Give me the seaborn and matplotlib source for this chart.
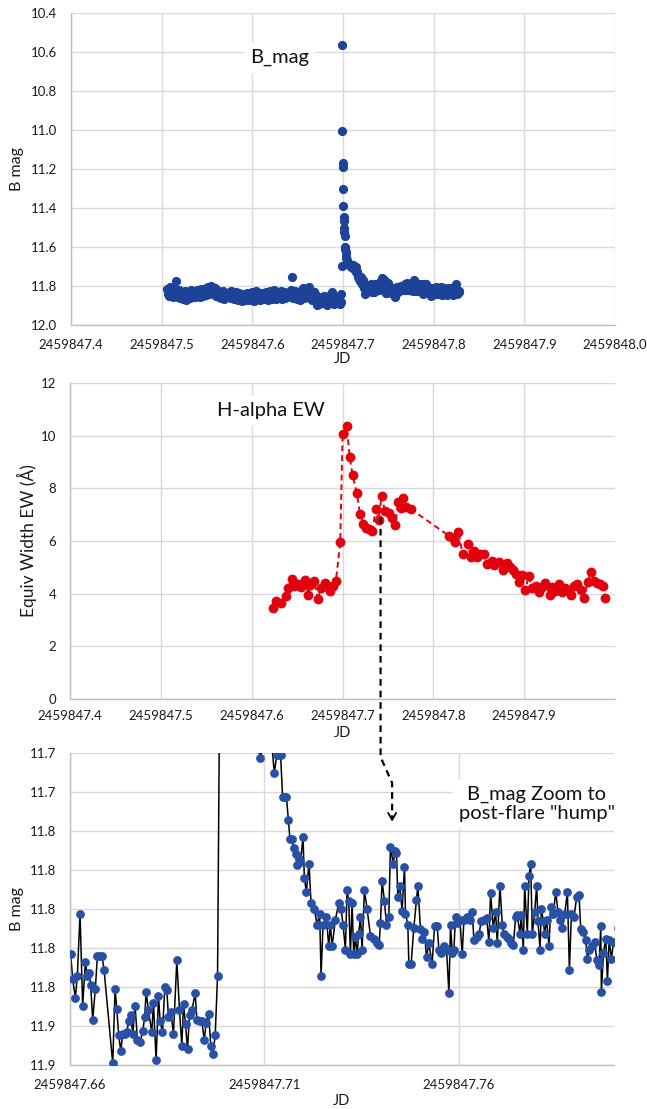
import numpy as np
import matplotlib
matplotlib.use("Agg")
import matplotlib.pyplot as plt
import seaborn as sns
from matplotlib.ticker import FixedLocator, FixedFormatter, MultipleLocator
from matplotlib.lines import Line2D

# ---------------------------------------------------------------- data
JD0 = 2459847.0   # epoch; times below are JD - JD0

# B-band photometry, quiescent run before the zoom window
b_jd_a = [0.5060, 0.5068, 0.5076, 0.5084, 0.5092, 0.5100, 0.5108, 0.5116, 0.5124, 0.5132,
          0.5140, 0.5148, 0.5156, 0.5164, 0.5172, 0.5180, 0.5188, 0.5196, 0.5204, 0.5212,
          0.5220, 0.5228, 0.5236, 0.5244, 0.5252, 0.5260, 0.5268, 0.5276, 0.5284, 0.5292,
          0.5300, 0.5308, 0.5316, 0.5324, 0.5332, 0.5340, 0.5348, 0.5356, 0.5364, 0.5372,
          0.5380, 0.5388, 0.5396, 0.5404, 0.5412, 0.5420, 0.5428, 0.5436, 0.5444, 0.5452,
          0.5460, 0.5468, 0.5476, 0.5484, 0.5492, 0.5500, 0.5508, 0.5516, 0.5524, 0.5532,
          0.5540, 0.5548, 0.5556, 0.5564, 0.5572, 0.5580, 0.5588, 0.5596, 0.5604, 0.5612,
          0.5620, 0.5628, 0.5636, 0.5644, 0.5652, 0.5660, 0.5668, 0.5676, 0.5684, 0.5692,
          0.5700, 0.5708, 0.5716]
b_mag_a = [11.815, 11.842, 11.828, 11.851, 11.806, 11.836, 11.846, 11.822, 11.858, 11.833,
           11.812, 11.845, 11.776, 11.838, 11.827, 11.854, 11.819, 11.843, 11.861, 11.829,
           11.848, 11.835, 11.866, 11.841, 11.852, 11.824, 11.870, 11.846, 11.839, 11.857,
           11.831, 11.862, 11.844, 11.818, 11.853, 11.837, 11.849, 11.826, 11.858, 11.834,
           11.845, 11.821, 11.851, 11.838, 11.829, 11.856, 11.842, 11.817, 11.848, 11.833,
           11.852, 11.824, 11.841, 11.811, 11.846, 11.829, 11.838, 11.805, 11.843, 11.822,
           11.834, 11.798, 11.831, 11.815, 11.840, 11.826, 11.812, 11.836, 11.851, 11.823,
           11.845, 11.858, 11.834, 11.849, 11.862, 11.839, 11.855, 11.828, 11.847, 11.866,
           11.841, 11.853, 11.836]

b_jd_b = [0.5746, 0.5754, 0.5762, 0.5770, 0.5778, 0.5786, 0.5794, 0.5802, 0.5810, 0.5818,
          0.5826, 0.5834, 0.5842, 0.5850, 0.5858, 0.5866, 0.5874, 0.5882, 0.5890, 0.5898,
          0.5906, 0.5914, 0.5922, 0.5930, 0.5938, 0.5946, 0.5954, 0.5962, 0.5970, 0.5978,
          0.5986, 0.5994, 0.6002, 0.6010, 0.6018, 0.6026, 0.6034, 0.6042, 0.6050, 0.6058,
          0.6066, 0.6074, 0.6082, 0.6090, 0.6098, 0.6106, 0.6114, 0.6122, 0.6130, 0.6138,
          0.6146, 0.6154, 0.6162, 0.6170, 0.6178, 0.6186, 0.6194, 0.6202, 0.6210, 0.6218,
          0.6226, 0.6234, 0.6242, 0.6250, 0.6258, 0.6266, 0.6274, 0.6282, 0.6290, 0.6298,
          0.6306, 0.6314, 0.6322, 0.6330, 0.6338, 0.6346, 0.6354, 0.6362, 0.6370, 0.6378,
          0.6386, 0.6394, 0.6402, 0.6410, 0.6418, 0.6426, 0.6434, 0.6442, 0.6450, 0.6458,
          0.6466, 0.6474, 0.6482, 0.6490, 0.6498, 0.6506, 0.6514, 0.6522, 0.6530, 0.6538,
          0.6546, 0.6554, 0.6562, 0.6570, 0.6578, 0.6586]
b_mag_b = [11.838, 11.852, 11.824, 11.861, 11.845, 11.833, 11.868, 11.849, 11.856, 11.829,
           11.864, 11.843, 11.872, 11.851, 11.838, 11.866, 11.855, 11.878, 11.846, 11.861,
           11.842, 11.869, 11.853, 11.874, 11.848, 11.836, 11.863, 11.857, 11.871, 11.844,
           11.859, 11.833, 11.866, 11.851, 11.876, 11.845, 11.862, 11.828, 11.855, 11.868,
           11.841, 11.858, 11.873, 11.849, 11.836, 11.861, 11.853, 11.867, 11.842, 11.857,
           11.831, 11.864, 11.848, 11.872, 11.839, 11.855, 11.826, 11.859, 11.845, 11.868,
           11.836, 11.851, 11.822, 11.857, 11.843, 11.866, 11.834, 11.849, 11.861, 11.838,
           11.853, 11.827, 11.846, 11.869, 11.841, 11.856, 11.832, 11.862, 11.848, 11.837,
           11.858, 11.843, 11.829, 11.851, 11.836, 11.819, 11.752, 11.842, 11.861, 11.834,
           11.849, 11.826, 11.857, 11.841, 11.866, 11.832, 11.853, 11.844, 11.871, 11.838,
           11.855, 11.812, 11.847, 11.862, 11.829, 11.851]

# pre-flare part of the zoom window
b_jd_c = [0.66017, 0.66069, 0.66137, 0.66189, 0.66258, 0.66326, 0.66395, 0.66447, 0.66498, 0.66533,
          0.66584, 0.66653, 0.66704, 0.66773, 0.66825, 0.66876, 0.67100, 0.67160, 0.67203, 0.67254,
          0.67306, 0.67357, 0.67409, 0.67460, 0.67512, 0.67564, 0.67615, 0.67675, 0.67735, 0.67804,
          0.67873, 0.67924, 0.67959, 0.68019, 0.68105, 0.68148, 0.68216, 0.68277, 0.68320, 0.68380,
          0.68440, 0.68491, 0.68534, 0.68595, 0.68663, 0.68749, 0.68818, 0.68878, 0.68921, 0.68973,
          0.69024, 0.69076, 0.69136, 0.69222, 0.69265, 0.69333, 0.69394, 0.69454, 0.69505, 0.69565,
          0.69625, 0.69677, 0.69737, 0.69797]
b_mag_c = [11.829, 11.845, 11.857, 11.843, 11.803, 11.862, 11.834, 11.843, 11.841, 11.849,
           11.871, 11.851, 11.830, 11.830, 11.830, 11.839, 11.899, 11.851, 11.864, 11.881,
           11.891, 11.880, 11.880, 11.879, 11.872, 11.868, 11.880, 11.862, 11.884, 11.885,
           11.878, 11.869, 11.853, 11.865, 11.879, 11.860, 11.897, 11.856, 11.872, 11.879,
           11.850, 11.852, 11.869, 11.866, 11.880, 11.833, 11.865, 11.888, 11.861, 11.874,
           11.890, 11.868, 11.865, 11.854, 11.871, 11.872, 11.872, 11.884, 11.873, 11.867,
           11.888, 11.893, 11.881, 11.843]

# flare rise and early decay
b_jd_d = [0.69840, 0.69880, 0.69920, 0.69950, 0.69980, 0.70010, 0.70040, 0.70070, 0.70100, 0.70130,
          0.70160, 0.70190, 0.70220, 0.70250, 0.70280, 0.70310, 0.70350, 0.70400, 0.70460, 0.70520,
          0.70580, 0.70640, 0.70700, 0.70780, 0.70840]
b_mag_d = [11.697, 10.565, 11.005, 11.168, 11.188, 11.300, 11.392, 11.445, 11.468, 11.500,
           11.522, 11.545, 11.600, 11.612, 11.628, 11.645, 11.658, 11.668, 11.675, 11.680,
           11.684, 11.688, 11.690, 11.693, 11.696]

# late decay and post-flare hump
b_jd_e = [0.70897, 0.71000, 0.71100, 0.71200, 0.71258, 0.71320, 0.71370, 0.71420, 0.71470, 0.71520,
          0.71570, 0.71620, 0.71660, 0.71710, 0.71760, 0.71810, 0.71850, 0.71890, 0.71930, 0.71997,
          0.72031, 0.72082, 0.72151, 0.72203, 0.72289, 0.72357, 0.72426, 0.72461, 0.72512, 0.72598,
          0.72658, 0.72701,
          0.72744, 0.72830, 0.72916, 0.72976, 0.73027, 0.73087, 0.73130, 0.73173, 0.73216, 0.73259,
          0.73302, 0.73345, 0.73388, 0.73431, 0.73474, 0.73517, 0.73577, 0.73646, 0.73732, 0.73818,
          0.73903, 0.73955, 0.73990, 0.74032, 0.74093, 0.74144, 0.74204, 0.74247, 0.74316, 0.74367,
          0.74402, 0.74436, 0.74487, 0.74547, 0.74608, 0.74634, 0.74694, 0.74720, 0.74780, 0.74848,
          0.74917, 0.74952, 0.75020, 0.75063, 0.75123, 0.75175, 0.75235, 0.75321, 0.75381, 0.75450,
          0.75493, 0.75553, 0.75622, 0.75690, 0.75751, 0.75793, 0.75836, 0.75879, 0.75922, 0.75965,
          0.76034, 0.76094, 0.76137, 0.76223, 0.76292, 0.76352, 0.76395, 0.76464, 0.76524, 0.76584,
          0.76653, 0.76721, 0.76781, 0.76824, 0.76893, 0.76953, 0.76996, 0.77065, 0.77125, 0.77168,
          0.77237, 0.77297, 0.77357, 0.77409, 0.77469, 0.77512, 0.77580, 0.77615, 0.77666, 0.77701,
          0.77769, 0.77812, 0.77855, 0.77898, 0.77958, 0.78010, 0.78044, 0.78096, 0.78130, 0.78182,
          0.78216, 0.78267, 0.78328, 0.78371, 0.78439, 0.78500, 0.78560, 0.78611, 0.78671, 0.78732,
          0.78800, 0.78852, 0.78904, 0.78972, 0.79041, 0.79101, 0.79144, 0.79213, 0.79273, 0.79316,
          0.79367, 0.79445, 0.79505, 0.79556, 0.79616, 0.79659, 0.79676, 0.79728, 0.79788, 0.79831,
          0.79874, 0.79934, 0.79986, 0.80046]
b_mag_e = [11.703, 11.692, 11.694, 11.696, 11.713, 11.701, 11.701, 11.701, 11.728, 11.728,
           11.728, 11.743, 11.755, 11.755, 11.761, 11.765, 11.772, 11.768, 11.770, 11.754,
           11.780, 11.789, 11.771, 11.796, 11.800, 11.810, 11.803, 11.843, 11.810, 11.805,
           11.824, 11.810,
           11.824, 11.807, 11.796, 11.800, 11.810, 11.826, 11.788, 11.795, 11.829, 11.796,
           11.829, 11.818, 11.829, 11.816, 11.805, 11.826, 11.788, 11.800, 11.817, 11.819,
           11.822, 11.823, 11.809, 11.782, 11.795, 11.810, 11.805, 11.760, 11.771, 11.763,
           11.764, 11.792, 11.785, 11.801, 11.773, 11.803, 11.810, 11.835, 11.835, 11.812,
           11.794, 11.785, 11.813, 11.819, 11.815, 11.831, 11.822, 11.835, 11.811, 11.811,
           11.826, 11.828, 11.824, 11.826, 11.854, 11.810, 11.828, 11.826, 11.805, 11.809,
           11.807, 11.829, 11.807, 11.805, 11.807, 11.802, 11.820, 11.818, 11.816, 11.808,
           11.807, 11.806, 11.821, 11.790, 11.812, 11.802, 11.822, 11.785, 11.810, 11.816,
           11.818, 11.819, 11.822, 11.823, 11.805, 11.804, 11.816, 11.804, 11.826, 11.785,
           11.816, 11.779, 11.771, 11.816, 11.802, 11.785, 11.808, 11.826, 11.800, 11.808,
           11.816, 11.807, 11.824, 11.799, 11.803, 11.789, 11.802, 11.807, 11.812, 11.803,
           11.789, 11.839, 11.803, 11.805, 11.792, 11.791, 11.813, 11.815, 11.820, 11.832,
           11.826, 11.824, 11.821, 11.833, 11.836, 11.811, 11.853, 11.828, 11.819, 11.846,
           11.820, 11.832, 11.821, 11.822]

# end of the B-band run
b_jd_f = [0.8010, 0.8016, 0.8022, 0.8028, 0.8034, 0.8040, 0.8046, 0.8052, 0.8058, 0.8064,
          0.8070, 0.8076, 0.8082, 0.8088, 0.8094, 0.8100, 0.8106, 0.8112, 0.8118, 0.8124,
          0.8130, 0.8136, 0.8142, 0.8148, 0.8154, 0.8160, 0.8166, 0.8172, 0.8178, 0.8184,
          0.8190, 0.8196, 0.8202, 0.8208, 0.8214, 0.8220, 0.8226, 0.8232, 0.8238, 0.8244,
          0.8250, 0.8256, 0.8262, 0.8268, 0.8274, 0.8280]
b_mag_f = [11.812, 11.828, 11.806, 11.835, 11.819, 11.842, 11.824, 11.811, 11.833, 11.817,
           11.839, 11.826, 11.803, 11.831, 11.845, 11.822, 11.814, 11.836, 11.809, 11.827,
           11.841, 11.818, 11.832, 11.848, 11.823, 11.812, 11.837, 11.826, 11.819, 11.843,
           11.829, 11.808, 11.834, 11.821, 11.846, 11.827, 11.815, 11.838, 11.824, 11.792,
           11.831, 11.842, 11.819, 11.836, 11.825, 11.833]

# H-alpha equivalent width (Angstrom)
ha_jd = [0.6236, 0.6273, 0.6318, 0.6373, 0.6395, 0.6441, 0.6464, 0.6509, 0.6546, 0.6592,
         0.6624, 0.6646, 0.6691, 0.6729, 0.6760, 0.6806, 0.6838, 0.6865, 0.6896, 0.6928,
         0.6975, 0.7001, 0.7047, 0.7079, 0.7111, 0.7157, 0.7193, 0.7229, 0.7261, 0.7293,
         0.7330, 0.7366, 0.7398, 0.7430, 0.7466, 0.7512, 0.7548, 0.7580, 0.7612, 0.7639,
         0.7671, 0.7703, 0.7749, 0.8171, 0.8217, 0.8240, 0.8277, 0.8322, 0.8377, 0.8413,
         0.8444, 0.8476, 0.8513, 0.8559, 0.8595, 0.8641, 0.8672, 0.8718, 0.8764, 0.8809,
         0.8841, 0.8877, 0.8914, 0.8946, 0.8978, 0.9014, 0.9051, 0.9083, 0.9128, 0.9160,
         0.9197, 0.9233, 0.9279, 0.9311, 0.9342, 0.9379, 0.9415, 0.9447, 0.9480, 0.9515,
         0.9552, 0.9583, 0.9630, 0.9661, 0.9698, 0.9734, 0.9766, 0.9798, 0.9834, 0.9871,
         0.9889]
ha_ew = [3.45, 3.72, 3.65, 3.92, 4.20, 4.55, 4.30, 4.35, 4.27, 4.52,
         3.95, 4.33, 4.50, 3.78, 4.22, 4.40, 4.28, 4.10, 4.30, 4.50,
         5.95, 10.05, 10.35, 9.20, 8.50, 7.82, 7.02, 6.65, 6.50, 6.45,
         6.38, 7.22, 6.80, 7.72, 7.15, 7.08, 6.88, 6.62, 7.48, 7.25,
         7.62, 7.28, 7.22, 6.20, 6.12, 5.98, 6.35, 5.50, 5.90, 5.40,
         5.62, 5.38, 5.52, 5.50, 5.12, 5.25, 5.10, 5.22, 4.88, 5.18,
         5.02, 4.88, 4.75, 4.45, 4.72, 4.15, 4.68, 4.22, 4.30, 4.05,
         4.25, 4.42, 3.95, 4.25, 4.12, 4.38, 4.08, 4.22, 4.12, 3.95,
         4.30, 4.38, 4.15, 3.85, 4.45, 4.82, 4.50, 4.42, 4.35, 4.30,
         3.85]

# axis ticks and labels
top_xticks = [0.4, 0.5, 0.6, 0.7, 0.8, 0.9, 1.0]
top_xlabels = ["2459847.4", "2459847.5", "2459847.6", "2459847.7", "2459847.8", "2459847.9", "2459848.0"]
top_yticks = [10.4, 10.6, 10.8, 11.0, 11.2, 11.4, 11.6, 11.8, 12.0]
top_ylabels = ["10.4", "10.6", "10.8", "11.0", "11.2", "11.4", "11.6", "11.8", "12.0"]
mid_xticks = [0.4, 0.5, 0.6, 0.7, 0.8, 0.9]
mid_xlabels = ["2459847.4", "2459847.5", "2459847.6", "2459847.7", "2459847.8", "2459847.9"]
mid_yticks = [0, 2, 4, 6, 8, 10, 12]
zoom_xticks = [0.66, 0.71, 0.76]
zoom_xlabels = ["2459847.66", "2459847.71", "2459847.76"]
zoom_yticks = [11.700, 11.725, 11.750, 11.775, 11.800, 11.825, 11.850, 11.875, 11.900]
zoom_ylabels = ["11.7", "11.7", "11.8", "11.8", "11.8", "11.8", "11.8", "11.9", "11.9"]

# ---------------------------------------------------------------- style
sns.set_theme(style="white")
plt.rcParams["font.family"] = ["Lato", "DejaVu Sans"]

BLUE_TOP = "#1d4398"
BLUE_ZOOM = "#2851a5"
RED = "#e1000e"
GRID = "#d9d9d9"
AXIS = "#bfbfbf"
TXT = "#1a1a1a"

b_jd = np.array(b_jd_a + b_jd_b + b_jd_c + b_jd_d + b_jd_e + b_jd_f) + JD0
b_mag = np.array(b_mag_a + b_mag_b + b_mag_c + b_mag_d + b_mag_e + b_mag_f)
h_jd = np.array(ha_jd) + JD0
h_ew = np.array(ha_ew)

W, H = 647, 1109
fig = plt.figure(figsize=(W / 100, H / 100), dpi=100)


def frame(left, top, right, bottom):
    return [left / W, 1 - bottom / H, (right - left) / W, (bottom - top) / H]


ax1 = fig.add_axes(frame(71, 13, 615, 325))
ax2 = fig.add_axes(frame(70, 383, 615, 699))
ax3 = fig.add_axes(frame(70, 753, 614, 1065))


def style_axes(ax, xpad, ypad):
    for side in ("top", "right"):
        ax.spines[side].set_visible(False)
    for side in ("left", "bottom"):
        ax.spines[side].set_color(AXIS)
        ax.spines[side].set_linewidth(1.0)
    ax.grid(True, which="major", color=GRID, linewidth=1.0)
    ax.set_axisbelow(True)
    ax.tick_params(axis="both", which="major", length=0, labelsize=9.5, colors=TXT)
    ax.tick_params(axis="x", pad=xpad)
    ax.tick_params(axis="y", pad=ypad)


def set_ticks(axis, values, labels, offset=0.0):
    axis.set_major_locator(FixedLocator([offset + v for v in values]))
    axis.set_major_formatter(FixedFormatter(labels))


# ---------------------------------------------------------------- B mag, full run
sns.scatterplot(x=b_jd, y=b_mag, ax=ax1, s=44, color=BLUE_TOP, linewidth=0, zorder=3)
ax1.set_xlim(JD0 + 0.4, JD0 + 1.0)
ax1.set_ylim(12.0, 10.4)
set_ticks(ax1.xaxis, top_xticks, top_xlabels, JD0)
set_ticks(ax1.yaxis, top_yticks, top_ylabels)
style_axes(ax1, 10, 10)
ax1.set_xlabel("JD", fontsize=10.5, color=TXT, labelpad=1)
ax1.set_ylabel("B mag", fontsize=11.5, color=TXT, labelpad=5)
ax1.text(JD0 + 0.630, 10.63, "B_mag", fontsize=14.5, color="#111111", ha="center", va="center",
         bbox=dict(boxstyle="square,pad=0.3", fc="white", ec="none"), zorder=4)

# ---------------------------------------------------------------- H-alpha EW
sns.lineplot(x=h_jd, y=h_ew, ax=ax2, color=RED, linewidth=1.4, linestyle=(0, (3, 2)),
             estimator=None, sort=False, zorder=2)
sns.scatterplot(x=h_jd, y=h_ew, ax=ax2, s=50, color=RED, linewidth=0, zorder=3)
ax2.set_xlim(JD0 + 0.4, JD0 + 1.0)
ax2.set_ylim(0, 12)
set_ticks(ax2.xaxis, mid_xticks, mid_xlabels, JD0)
ax2.yaxis.set_major_locator(FixedLocator(mid_yticks))
style_axes(ax2, 8, 10)
ax2.set_xlabel("JD", fontsize=10.5, color=TXT, labelpad=3)
ax2.set_ylabel("Equiv Width EW (Å)", fontsize=12.5, color=TXT, labelpad=3)
ax2.text(JD0 + 0.6207, 10.94, "H-alpha EW", fontsize=14.5, color="#111111", ha="center", va="center",
         bbox=dict(boxstyle="square,pad=0.3", fc="white", ec="none"), zorder=4)

# ---------------------------------------------------------------- B mag, zoom on the decay
sns.lineplot(x=b_jd, y=b_mag, ax=ax3, color="black", linewidth=1.1,
             estimator=None, sort=False, zorder=2)
sns.scatterplot(x=b_jd, y=b_mag, ax=ax3, s=40, color=BLUE_ZOOM, linewidth=0, zorder=3)
ax3.set_xlim(JD0 + 0.66, JD0 + 0.80)
ax3.set_ylim(11.90, 11.70)
set_ticks(ax3.xaxis, zoom_xticks, zoom_xlabels, JD0)
set_ticks(ax3.yaxis, zoom_yticks, zoom_ylabels)
ax3.xaxis.set_minor_locator(MultipleLocator(0.01))
style_axes(ax3, 10, 10)
ax3.tick_params(axis="x", which="minor", direction="inout", length=6, width=0.9, color="#7f7f7f")
ax3.set_xlabel("JD", fontsize=10.5, color=TXT, labelpad=2)
ax3.set_ylabel("B mag", fontsize=11.5, color=TXT, labelpad=4)
ax3.text(JD0 + 0.7801, 11.7327, 'B_mag Zoom to\npost-flare "hump"', fontsize=14.5, color="#111111",
         ha="center", va="center", linespacing=1.15,
         bbox=dict(boxstyle="square,pad=0.3", fc="white", ec="none"), zorder=4, clip_on=False)

# ---------------------------------------------------------------- pointer linking the two humps
to_fig = fig.transFigure.inverted()


def fig_xy(ax, x, y):
    return to_fig.transform(ax.transData.transform((x, y)))


p_start = fig_xy(ax2, JD0 + 0.7419, 6.9)
p_bend1 = fig_xy(ax3, JD0 + 0.7399, 11.7026)
p_bend2 = fig_xy(ax3, JD0 + 0.7429, 11.7192)
p_tip = fig_xy(ax3, JD0 + 0.7429, 11.7429)
fig.add_artist(Line2D([p_start[0], p_start[0], p_bend2[0], p_tip[0]],
                      [p_start[1], p_bend1[1], p_bend2[1], p_tip[1]],
                      transform=fig.transFigure, color="black", linewidth=1.6,
                      linestyle=(0, (3, 2.2)), zorder=5))
hw, hh = 4 / W, 7 / H
fig.add_artist(Line2D([p_tip[0] - hw, p_tip[0], p_tip[0] + hw],
                      [p_tip[1] + hh, p_tip[1], p_tip[1] + hh],
                      transform=fig.transFigure, color="black", linewidth=1.3, zorder=5))

fig.savefig("out.png", dpi=100, facecolor="white")
